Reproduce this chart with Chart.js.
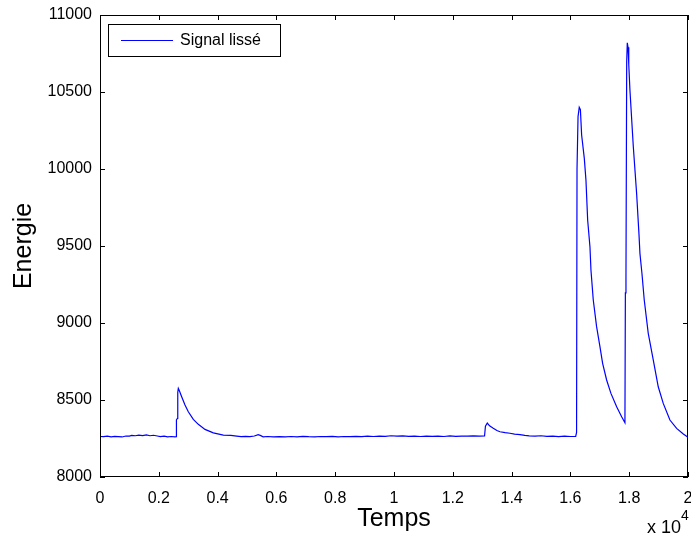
<!DOCTYPE html>
<html>
<head>
<meta charset="utf-8">
<title>Signal lissé</title>
<script src="https://cdn.jsdelivr.net/npm/chart.js"></script>
<style>
  body { margin: 0; background: #fff; }
  canvas { display: block; }
</style>
</head>
<body>
<canvas id="chart" width="691" height="537"></canvas>
<script>
// values (x in samples, y in energy)
const temps = [
  0, 120, 250, 380, 500, 620, 750, 880, 1000, 1080, 1200, 1320, 1450, 1580, 1700, 1820, 1950,
  2050, 2180, 2300, 2420, 2550, 2590, 2600, 2630, 2645, 2664, 2700, 2778, 2891, 3004, 3174,
  3344, 3571, 3855, 4195, 4450, 4649, 4800, 4950, 5100, 5250, 5380, 5450, 5550, 5700, 5900,
  6100, 6300, 6500, 6700, 6900, 7100, 7300, 7500, 7700, 7900, 8100, 8300, 8500, 8700, 8900,
  9100, 9300, 9500, 9700, 9900, 10100, 10300, 10500, 10700, 10900, 11100, 11300, 11500, 11700,
  11900, 12100, 12300, 12500, 12700, 12900, 13080, 13110, 13173, 13250, 13377, 13500, 13604,
  13780, 13944, 14100, 14285, 14450, 14600, 14800, 15000, 15200, 15400, 15600, 15800, 16000,
  16180, 16210, 16225, 16260, 16301, 16340, 16382, 16473, 16529, 16587, 16665, 16699, 16778,
  16891, 17005, 17096, 17232, 17379, 17573, 17743, 17855, 17870, 17890, 17915, 17935, 17960,
  17985, 18025, 18140, 18252, 18331, 18365, 18433, 18512, 18648, 18818, 18988, 19158, 19385,
  19613, 19840, 20000
];
const energie = [
  8263, 8262, 8265, 8261, 8264, 8262, 8260, 8266, 8265, 8270, 8268, 8272, 8269, 8273, 8268, 8271, 8266,
  8262, 8265, 8260, 8263, 8261, 8262, 8370, 8380, 8550, 8575, 8560, 8521, 8467, 8424, 8374,
  8342, 8309, 8287, 8272, 8270, 8266, 8262, 8264, 8262, 8266, 8275, 8270, 8261, 8263, 8260,
  8262, 8261, 8263, 8260, 8264, 8262, 8261, 8263, 8262, 8264, 8261, 8263, 8262, 8264, 8262,
  8265, 8263, 8266, 8264, 8268, 8265, 8267, 8264, 8266, 8263, 8265, 8264, 8266, 8263,
  8267, 8264, 8266, 8265, 8267, 8265, 8266, 8330, 8350, 8332, 8316, 8302, 8294,
  8288, 8284, 8278, 8275, 8270, 8267, 8265, 8268, 8264, 8266, 8262, 8265, 8263,
  8264, 8290, 10000, 10340, 10400, 10385, 10221, 10069, 9928, 9669, 9495, 9344, 9149,
  8976, 8846, 8738, 8630, 8543, 8456, 8391, 8352, 9195, 9290, 10700, 10820, 10790,
  10680, 10513, 10145, 9842, 9582, 9452, 9323, 9149, 8933, 8760, 8586, 8478, 8370,
  8316, 8279, 8258
];
const xTicks = [0, 2000, 4000, 6000, 8000, 10000, 12000, 14000, 16000, 18000, 20000];
const yTicks = [8000, 8500, 9000, 9500, 10000, 10500, 11000];

const FONT = '"Liberation Sans", Arial, sans-serif';

const boxPlugin = {
  id: 'matlabBox',
  afterDatasetsDraw(chart) {
    const { ctx, chartArea: a, scales: { x, y } } = chart;
    ctx.save();
    ctx.strokeStyle = '#000';
    ctx.lineWidth = 1;
    ctx.strokeRect(a.left + 0.5, a.top + 0.5, a.width - 1, a.height - 1);

    // inward ticks on all four sides
    ctx.beginPath();
    xTicks.forEach(v => {
      const px = Math.round(x.getPixelForValue(v)) + 0.5;
      ctx.moveTo(px, a.bottom); ctx.lineTo(px, a.bottom - 5);
      ctx.moveTo(px, a.top); ctx.lineTo(px, a.top + 5);
    });
    yTicks.forEach(v => {
      const py = Math.round(y.getPixelForValue(v)) + 0.5;
      ctx.moveTo(a.left, py); ctx.lineTo(a.left + 5, py);
      ctx.moveTo(a.right, py); ctx.lineTo(a.right - 5, py);
    });
    ctx.stroke();

    // legend box
    const lx = a.left + 8, ly = a.top + 9, lw = 172, lh = 32;
    ctx.fillStyle = '#fff';
    ctx.fillRect(lx, ly, lw, lh);
    ctx.strokeRect(lx + 0.5, ly + 0.5, lw, lh);
    ctx.strokeStyle = '#0000ff';
    ctx.beginPath();
    ctx.moveTo(lx + 13, ly + 16.5);
    ctx.lineTo(lx + 65, ly + 16.5);
    ctx.stroke();
    ctx.fillStyle = '#000';
    ctx.font = '16px ' + FONT;
    ctx.textBaseline = 'middle';
    ctx.textAlign = 'left';
    ctx.fillText(chart.data.datasets[0].label, lx + 72, ly + 17);

    // exponent label
    ctx.textAlign = 'right';
    ctx.textBaseline = 'alphabetic';
    ctx.font = '18px ' + FONT;
    ctx.fillText('x 10', 681, 533);
    ctx.font = '14px ' + FONT;
    ctx.textAlign = 'left';
    ctx.fillText('4', 681, 520);
    ctx.restore();
  }
};

new Chart(document.getElementById('chart'), {
  type: 'line',
  data: {
    datasets: [{
      label: 'Signal lissé',
      data: temps.map((t, i) => ({ x: t, y: energie[i] })),
      borderColor: '#0000ff',
      borderWidth: 1.2,
      pointRadius: 0,
      tension: 0,
      fill: false
    }]
  },
  options: {
    responsive: false,
    animation: false,
    devicePixelRatio: 1,
    layout: { padding: { top: 15, right: 3, left: 0, bottom: 0 } },
    plugins: { legend: { display: false }, tooltip: { enabled: false } },
    scales: {
      x: {
        type: 'linear',
        min: 0,
        max: 20000,
        grid: { display: false },
        border: { display: false },
        afterBuildTicks: s => { s.ticks = xTicks.map(v => ({ value: v })); },
        afterFit: s => { s.height = 60; s.paddingLeft = 0; s.paddingRight = 0; },
        ticks: {
          color: '#000',
          font: { family: FONT, size: 16 },
          padding: 4,
          maxRotation: 0,
          autoSkip: false,
          callback: v => String(v / 10000)
        },
        title: {
          display: true,
          text: 'Temps',
          color: '#000',
          font: { family: FONT, size: 25 },
          padding: { top: 0, bottom: 3 }
        }
      },
      y: {
        type: 'linear',
        min: 8000,
        max: 11000,
        grid: { display: false },
        border: { display: false },
        afterBuildTicks: s => { s.ticks = yTicks.map(v => ({ value: v })); },
        afterFit: s => { s.width = 100; s.paddingTop = 0; s.paddingBottom = 0; },
        ticks: {
          color: '#000',
          font: { family: FONT, size: 16 },
          padding: 0,
          autoSkip: false,
          callback: v => String(v)
        },
        title: {
          display: true,
          text: 'Energie',
          color: '#000',
          font: { family: FONT, size: 25 },
          padding: { top: 9, bottom: 0 }
        }
      }
    }
  },
  plugins: [boxPlugin]
});
</script>
</body>
</html>
